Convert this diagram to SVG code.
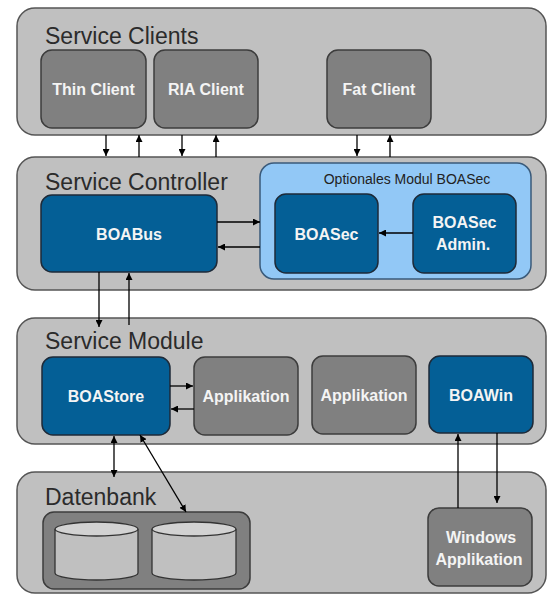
<svg xmlns="http://www.w3.org/2000/svg" width="550" height="595" viewBox="0 0 550 595">
<defs>
<marker id="ah" viewBox="0 0 10 10" refX="10" refY="5" markerWidth="7" markerHeight="7" orient="auto-start-reverse" markerUnits="userSpaceOnUse">
<path d="M0,0 L10,5 L0,10 z" fill="#000"/>
</marker>
<style>
.panel{fill:#c0c0c0;stroke:#555;stroke-width:1.5}
.gray{fill:#808080;stroke:#3c3c3c;stroke-width:1.5}
.blue{fill:#045f96;stroke:#1e2a38;stroke-width:1.5}
.light{fill:#92c8f6;stroke:#3a5a7a;stroke-width:1.5}
.title{font-family:"Liberation Sans",Arial,sans-serif;font-size:23px;fill:#2b2b2b}
.lbl{font-family:"Liberation Sans",Arial,sans-serif;font-size:16px;font-weight:bold;fill:#f4f4f4;text-anchor:middle}
.sub{font-family:"Liberation Sans",Arial,sans-serif;font-size:14px;fill:#222;text-anchor:middle}
.con line{stroke:#000;stroke-width:1.3;fill:none}
.cyl{fill:#c0c0c0;stroke:#333;stroke-width:1.3}
.cyltop{fill:#d2d2d2;stroke:#333;stroke-width:1.3}
</style>
</defs>
<rect width="550" height="595" fill="#fff"/>

<g id="service-clients">
<rect class="panel" x="17" y="8" width="529" height="127" rx="18"/>
<text class="title" x="45" y="44">Service Clients</text>
</g>
<g id="thin-client">
<rect class="gray" x="41" y="50" width="105" height="78" rx="11"/>
<text class="lbl" x="93.5" y="95">Thin Client</text>
</g>
<g id="ria-client">
<rect class="gray" x="154" y="50" width="104" height="78" rx="11"/>
<text class="lbl" x="206" y="95">RIA Client</text>
</g>
<g id="fat-client">
<rect class="gray" x="327" y="50" width="104" height="78" rx="11"/>
<text class="lbl" x="379" y="95">Fat Client</text>
</g>

<g id="service-controller">
<rect class="panel" x="17" y="157" width="529" height="133" rx="18"/>
<text class="title" x="45" y="190">Service Controller</text>
</g>
<g id="boabus">
<rect class="blue" x="41" y="195" width="176" height="77" rx="11"/>
<text class="lbl" x="129" y="240">BOABus</text>
</g>
<g id="optionales-modul">
<rect class="light" x="260" y="163" width="271" height="116" rx="14"/>
<text class="sub" x="407" y="184">Optionales Modul BOASec</text>
</g>
<g id="boasec">
<rect class="blue" x="275" y="194" width="103" height="79" rx="11"/>
<text class="lbl" x="326.5" y="240">BOASec</text>
</g>
<g id="boasec-admin">
<rect class="blue" x="413" y="194" width="103" height="79" rx="11"/>
<text class="lbl" x="464.5" y="228">BOASec</text>
<text class="lbl" x="463" y="250">Admin.</text>
</g>

<g id="service-module">
<rect class="panel" x="17" y="318" width="529" height="126" rx="18"/>
<text class="title" x="45" y="349">Service Module</text>
</g>
<g id="boastore">
<rect class="blue" x="42" y="357" width="128" height="78" rx="11"/>
<text class="lbl" x="106" y="402">BOAStore</text>
</g>
<g id="applikation-1">
<rect class="gray" x="194" y="357" width="104" height="78" rx="11"/>
<text class="lbl" x="246" y="402">Applikation</text>
</g>
<g id="applikation-2">
<rect class="gray" x="312" y="356" width="104" height="78" rx="11"/>
<text class="lbl" x="364" y="401">Applikation</text>
</g>
<g id="boawin">
<rect class="blue" x="429" y="356" width="104" height="77" rx="11"/>
<text class="lbl" x="481" y="401">BOAWin</text>
</g>

<g id="datenbank">
<rect class="panel" x="17" y="472" width="529" height="121" rx="18"/>
<text class="title" x="45" y="505">Datenbank</text>
</g>
<g id="db-group">
<rect class="gray" x="43" y="512" width="207" height="77" rx="11"/>
</g>
<g id="db-1">
<path class="cyl" d="M55,529 L55,573 A41.5,7 0 0 0 138,573 L138,529"/>
<ellipse class="cyltop" cx="96.5" cy="529" rx="41.5" ry="7"/>
</g>
<g id="db-2">
<path class="cyl" d="M152,529 L152,573 A42,7 0 0 0 236,573 L236,529"/>
<ellipse class="cyltop" cx="194" cy="529" rx="42" ry="7"/>
</g>
<g id="windows-applikation">
<rect class="gray" x="428" y="508" width="104" height="78" rx="11"/>
<text class="lbl" x="481" y="543">Windows</text>
<text class="lbl" x="479" y="565">Applikation</text>
</g>

<g id="connectors" class="con">
<line x1="106" y1="135" x2="106" y2="156" marker-end="url(#ah)"/>
<line x1="139" y1="157" x2="139" y2="135" marker-end="url(#ah)"/>
<line x1="182" y1="135" x2="182" y2="156" marker-end="url(#ah)"/>
<line x1="216" y1="157" x2="216" y2="135" marker-end="url(#ah)"/>
<line x1="357" y1="135" x2="357" y2="156" marker-end="url(#ah)"/>
<line x1="390" y1="157" x2="390" y2="135" marker-end="url(#ah)"/>
<line x1="217" y1="222" x2="260" y2="222" marker-end="url(#ah)"/>
<line x1="260" y1="247" x2="218" y2="247" marker-end="url(#ah)"/>
<line x1="413" y1="233" x2="379" y2="233" marker-end="url(#ah)"/>
<line x1="99" y1="272" x2="99" y2="327" marker-end="url(#ah)"/>
<line x1="129" y1="325" x2="129" y2="273" marker-end="url(#ah)"/>
<line x1="170" y1="386" x2="193" y2="386" marker-end="url(#ah)"/>
<line x1="194" y1="409" x2="171" y2="409" marker-end="url(#ah)"/>
<line x1="114" y1="436" x2="114" y2="477" marker-start="url(#ah)" marker-end="url(#ah)"/>
<line x1="140" y1="435" x2="186" y2="512" marker-start="url(#ah)" marker-end="url(#ah)"/>
<line x1="458" y1="508" x2="458" y2="434" marker-end="url(#ah)"/>
<line x1="497" y1="433" x2="497" y2="503" marker-end="url(#ah)"/>
</g>
</svg>
